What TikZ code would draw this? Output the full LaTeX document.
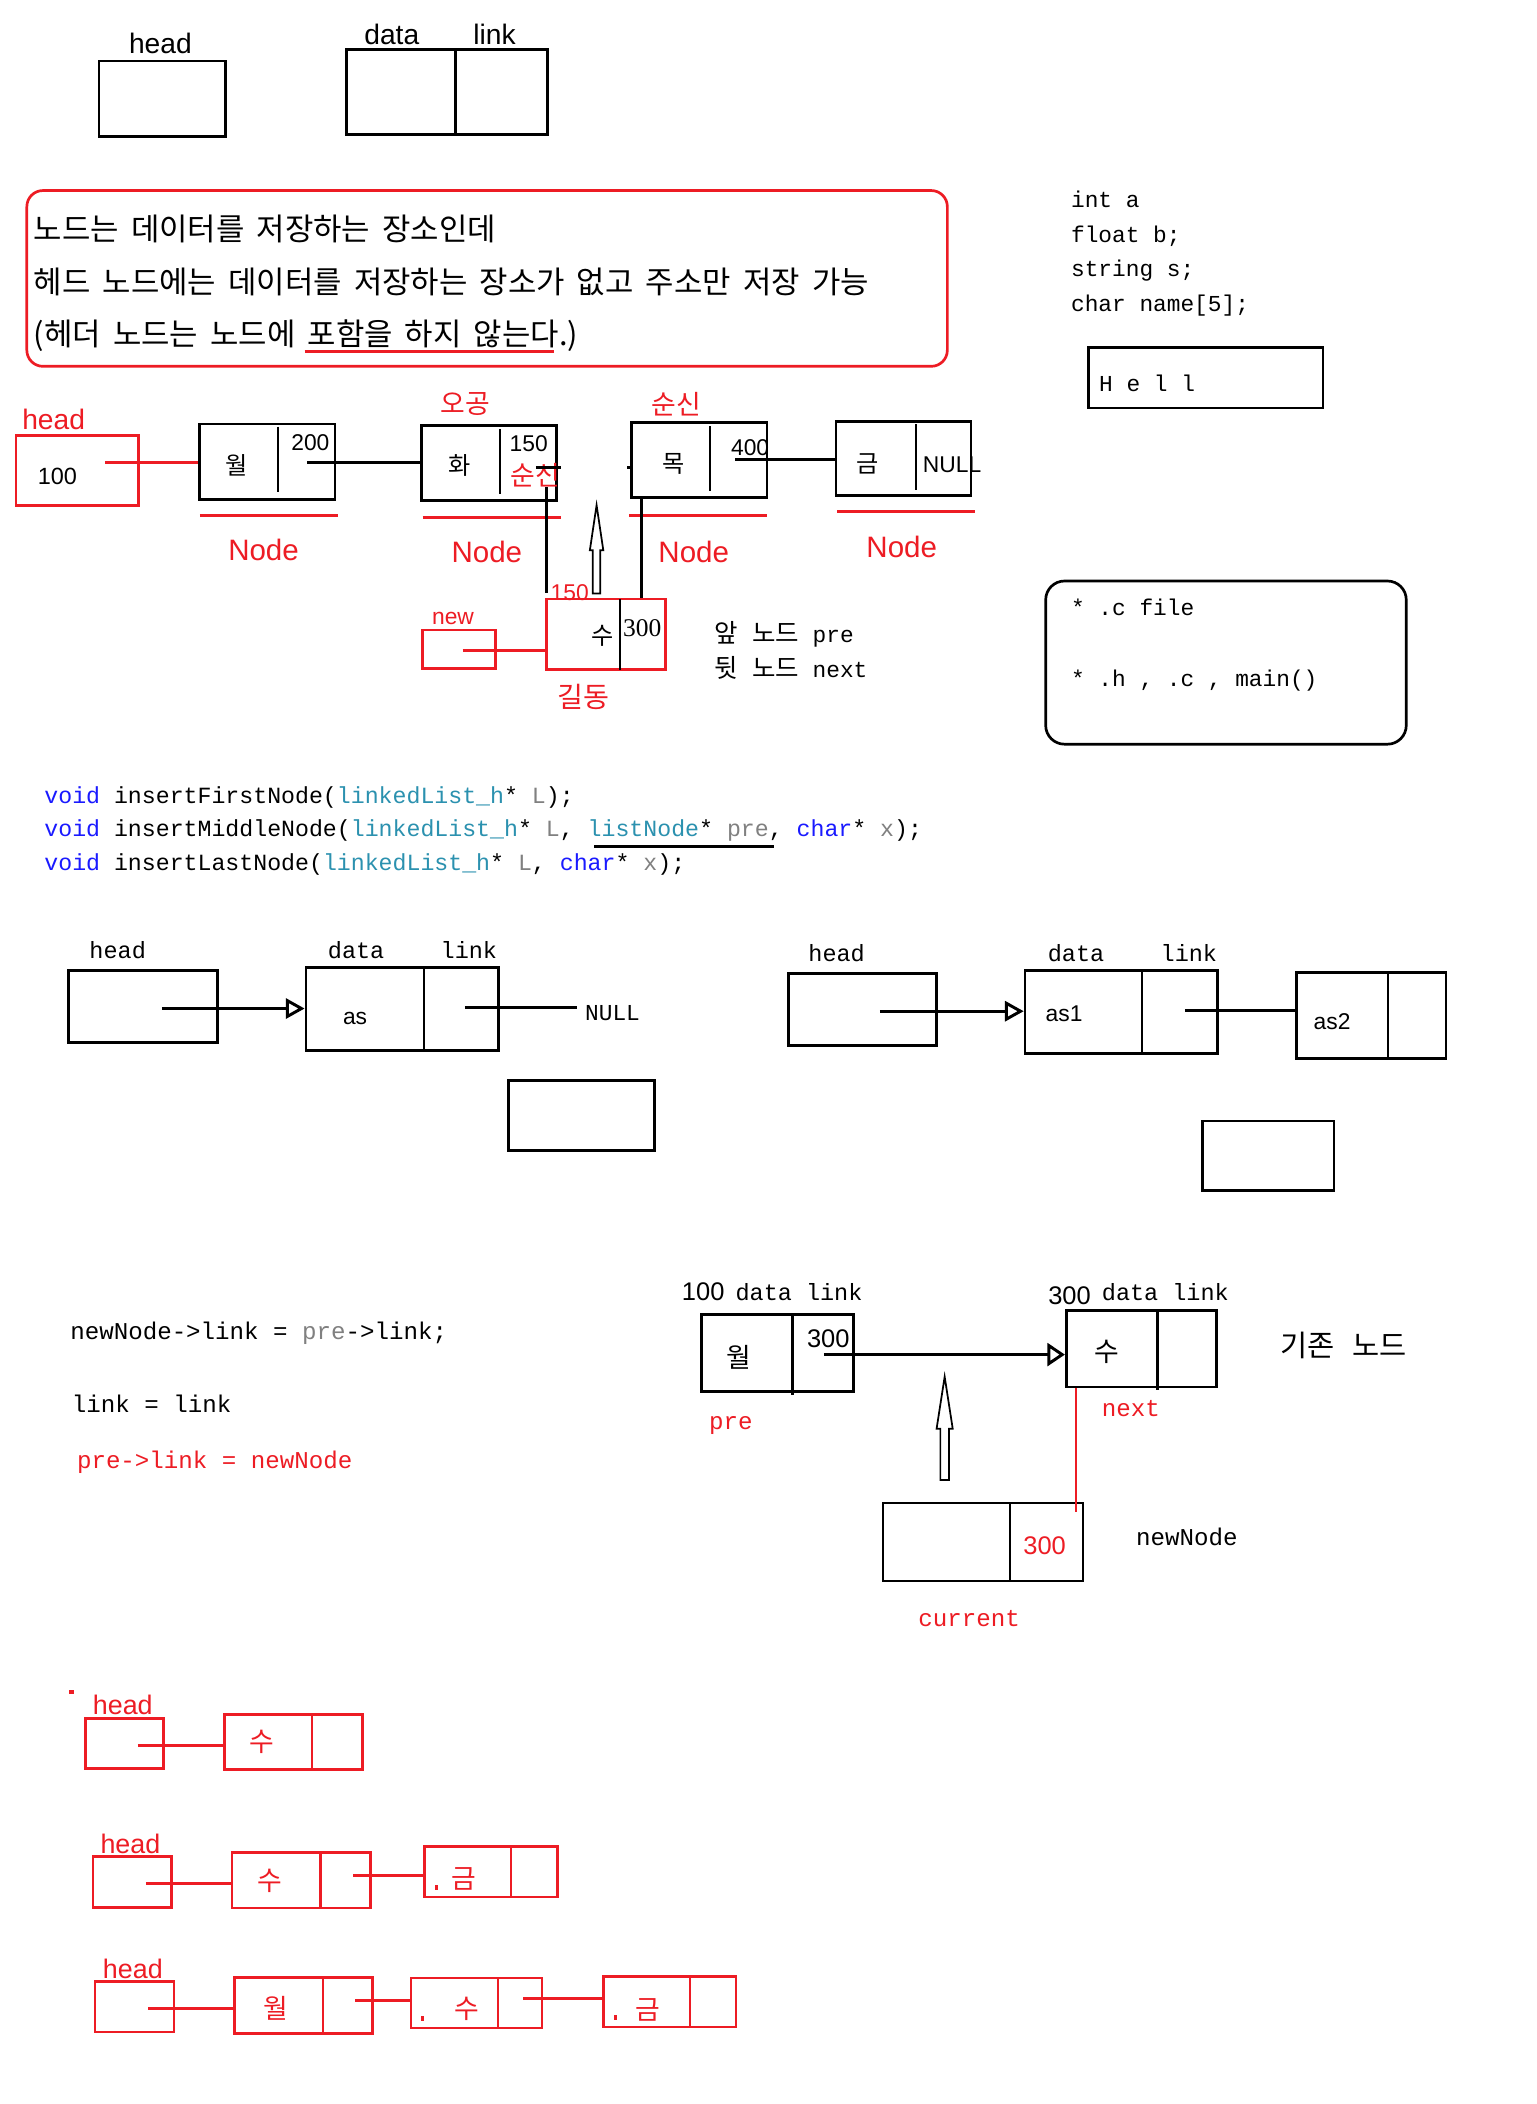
\documentclass[tikz,border=0pt]{standalone}
\usepackage{fontspec}
\setmainfont{Liberation Sans}
\newfontfamily\kr{Noto Sans CJK KR}
\newfontfamily\krw[WordSpace=1.75]{Noto Sans CJK KR}
\newfontfamily\mono{Liberation Mono}
\newfontfamily\ser{Liberation Serif}
\usetikzlibrary{arrows.meta,fit}
\definecolor{pred}{HTML}{ED1C24}
\definecolor{kw}{HTML}{1A1AFF}
\definecolor{ty}{HTML}{2B91AF}
\definecolor{gr}{HTML}{808080}
\newcommand\fsz[1]{\fontsize{#1}{#1}\selectfont}
\begin{document}
\begin{tikzpicture}[x=1pt,y=-1pt,
  box/.style={draw,line width=2pt,inner sep=0pt},
  rbox/.style={box,draw=pred},
  div/.style={line width=1.6pt},
  con/.style={line width=2.2pt},
  rcon/.style={con,draw=pred},
  uline/.style={draw=pred,line width=2.2pt},
  txt/.style={inner sep=0pt},
  oarr/.style={con,-{Triangle[open,length=14pt,width=15pt]}},
  harr/.style={line width=1.3pt}]
\fill[white] (0,0) rectangle (1145,1568);
\useasboundingbox (0,0) rectangle (1145,1568);

% ---------- section 1 ----------
\node[box, fit={(73.7,45.5)(167.8,101.9)}] (hd0) {};
\node[txt,anchor=base] (hd0l) at (119.5,40.2) {\fsz{21}head};
\node[box, fit={(258,36.8)(408,100.4)}] (nd0) {};
\draw[div] (339.5,36.8) -- (339.5,100.4);
\node[txt,anchor=base] (nd0d) at (292,33.5) {\fsz{21}data};
\node[txt,anchor=base] (nd0k) at (368.5,33.5) {\fsz{21}link};

\node[draw=pred,line width=2pt,rounded corners=12pt,inner sep=0pt,fit={(20,142)(706,273)}] (note) {};
\node[txt,anchor=base west] (k1) at (25,179) {\krw\fsz{23}노드는 데이터를 저장하는 장소인데};
\node[txt,anchor=base west] (k2) at (25,219) {\krw\fsz{23}헤드 노드에는 데이터를 저장하는 장소가 없고 주소만 저장 가능};
\node[txt,anchor=base west] (k3) at (25,257.5) {\krw\fsz{23}(헤더 노드는 노드에 포함을 하지 않는다.)};
\draw[uline] (227,262) -- (413,262);

% ---------- right code ----------
\node[txt,anchor=base west] (c1) at (798,155) {\mono\fsz{17}int a};
\node[txt,anchor=base west] (c2) at (798,180.5) {\mono\fsz{17}float b;};
\node[txt,anchor=base west] (c3) at (798,206) {\mono\fsz{17}string s;};
\node[txt,anchor=base west] (c4) at (798,232.5) {\mono\fsz{17}char name[5];};
\node[box, fit={(811,259)(986,304)}] (hell) {};
\node[txt,anchor=base west] (hellt) at (819,291.5) {\mono\fsz{17}H e l l};
\node[box,rounded corners=14pt,fit={(779.3,433)(1048,554.6)}] (files) {};
\node[txt,anchor=base west] (f1) at (798,458.8) {\mono\fsz{17}* .c file};
\node[txt,anchor=base west] (f2) at (798,511.7) {\mono\fsz{17}* .h , .c , main()};

% ---------- section 2 ----------
\node[rbox, fit={(11.9,324.3)(103.2,376.5)}] (hb) {};
\node[txt,anchor=base,text=pred] (hbl) at (40,320) {\fsz{21}head};
\node[txt] (hbv) at (42.8,355.3) {\fsz{17.5}100};
\node[box, fit={(148.8,316.1)(249.6,372)}] (wol) {};
\draw[div] (207.3,318) -- (207.3,367);
\node[txt] (wolt) at (176,346.7) {\kr\fsz{18}월};
\node[txt] (wolv) at (231.3,330) {\fsz{17}200};
\node[box, fit={(314,317.3)(414.6,373.2)}] (hwa) {};
\draw[div] (372.8,320) -- (372.8,368.5);
\node[txt] (hwat) at (342.4,346.7) {\kr\fsz{18}화};
\node[txt] (hwav) at (394,330.5) {\fsz{17}150};
\node[txt,text=pred] (hwas) at (399,354) {\kr\fsz{20}순신};
\node[txt,text=pred] (ogong) at (347,301) {\kr\fsz{20}오공};
\node[box, fit={(470.8,315.1)(571.6,371)}] (mok) {};
\draw[div] (529.2,317.6) -- (529.2,366);
\node[txt] (mokt) at (501.7,345.4) {\kr\fsz{18}목};
\node[txt] (mokv) at (559,333.6) {\fsz{17}400};
\node[txt,text=pred] (sunsin) at (504,301) {\kr\fsz{20}순신};
\node[box, fit={(623,313.9)(723.7,369.5)}] (geum) {};
\draw[div] (682.4,316.3) -- (682.4,364.8);
\node[txt] (geumt) at (646.7,345.4) {\kr\fsz{18}금};
\node[txt] (geumv) at (709.5,346) {\fsz{17}NULL};

\draw[uline] (149,384.2) -- (252,384.2);
\draw[uline] (315,385.7) -- (418,385.7);
\draw[uline] (469,384) -- (571.6,384);
\draw[uline] (624,381) -- (726.6,381);
\node[txt,text=pred] (nl1) at (196.4,410) {\fsz{22}Node};
\node[txt,text=pred] (nl2) at (362.8,411.3) {\fsz{22}Node};
\node[txt,text=pred] (nl3) at (517,411.3) {\fsz{22}Node};
\node[txt,text=pred] (nl4) at (672,407.5) {\fsz{22}Node};

\coordinate (hp) at (78.5,344.7);
\draw[rcon] (hp) -- (hp -| wol.west);
\coordinate (wp) at (229,344.7);
\draw[con] (wp) -- (wp -| hwa.west);
\coordinate (hs1) at (399.4,348.4);
\coordinate (hs2) at (418.4,348.4);
\draw[con] (hs1) -- (hs2);
\coordinate (mt) at (467.5,348.4);
\draw[con] (mt) -- (mt -| mok.west);
\coordinate (mp) at (548,342.4);
\draw[con] (mp) -- (mp -| geum.west);

\node[rbox, fit={(407.5,446.5)(496,499)}] (su) {};
\draw[div] (462,446.5) -- (462,499);
\coordinate (v1a) at (407.5,363);
\coordinate (v1b) at (407.5,441.8);
\draw[con] (v1a) -- (v1b);
\coordinate (v2) at (478,400);
\draw[con] (mok.south -| v2) -- (su.north -| v2);
\node[rbox, fit={(314.8,469.6)(369.5,498.2)}] (newb) {};
\node[txt,text=pred] (newl) at (337.6,461.2) {\fsz{17}new};
\coordinate (np) at (344.7,484.5);
\draw[rcon] (np) -- (np -| su.west);
\node[txt,text=pred] (s150) at (424.6,442) {\fsz{17}150};
\node[txt] (sut) at (448.9,473.6) {\kr\fsz{18}수};
\node[txt] (suv) at (478.7,468.4) {\ser\fsz{19}300};
\node[txt,text=pred] (gd) at (435,519.3) {\kr\fsz{21}길동};
\node[txt,anchor=base west] (pre1) at (532.6,478.5) {\mono\fsz{17}{\kr\fsz{19}앞} {\kr\fsz{19}노드} pre};
\node[txt,anchor=base west] (next1) at (532.6,505) {\mono\fsz{17}{\kr\fsz{19}뒷} {\kr\fsz{19}노드} next};
\draw[harr] (444.6,376.5) -- (449.6,410) -- (447.4,410) -- (447.4,442.3) -- (441.8,442.3) -- (441.8,410) -- (439.6,410) -- cycle;

% ---------- section 4 code ----------
\node[txt,anchor=base west] (p1) at (32.9,598.8) {\mono\fsz{17.3}{\color{kw}void} insertFirstNode({\color{ty}linkedList\_h}* {\color{gr}L});};
\node[txt,anchor=base west] (p2) at (32.9,623.7) {\mono\fsz{17.3}{\color{kw}void} insertMiddleNode({\color{ty}linkedList\_h}* {\color{gr}L}, {\color{ty}listNode}* {\color{gr}pre}, {\color{kw}char}* {\color{gr}x});};
\node[txt,anchor=base west] (p3) at (32.9,649) {\mono\fsz{17.3}{\color{kw}void} insertLastNode({\color{ty}linkedList\_h}* {\color{gr}L}, {\color{kw}char}* {\color{gr}x});};
\draw[line width=2pt] (443,630.6) -- (576.5,630.6);

% ---------- section 4 diagrams ----------
\node[box, fit={(51.2,723)(162.3,777)}] (h4a) {};
\node[txt,anchor=base] (h4al) at (87.7,714) {\mono\fsz{17.5}head};
\node[box, fit={(228,721)(371.3,783)}] (n4a) {};
\draw[div] (315.8,721) -- (315.8,783);
\node[txt,anchor=base] (n4ad) at (265.4,714.3) {\mono\fsz{17.5}data};
\node[txt,anchor=base] (n4ak) at (349.4,714.3) {\mono\fsz{17.5}link};
\coordinate (a4a) at (120.6,751.6);
\draw[oarr] (a4a) -- (a4a -| n4a.west);
\node[txt] (as) at (264.6,759) {\fsz{17}as};
\node[txt] (null4) at (456.5,755.3) {\mono\fsz{17}NULL};
\coordinate (l4a) at (346.5,750.9);
\draw[con,shorten >=6pt] (l4a) -- (l4a -| null4.west);
\node[box, fit={(378.7,805)(487.6,857.2)}] (e4a) {};

\node[box, fit={(587.7,725.5)(698.1,779.4)}] (h4b) {};
\node[txt,anchor=base] (h4bl) at (623.5,716.6) {\mono\fsz{17.5}head};
\node[box, fit={(763.9,723)(907.2,785)}] (n4b) {};
\draw[div] (850.9,723) -- (850.9,785);
\node[txt,anchor=base] (n4bd) at (801.9,716.8) {\mono\fsz{17.5}data};
\node[txt,anchor=base] (n4bk) at (886,716.8) {\mono\fsz{17.5}link};
\coordinate (a4b) at (655.7,753.6);
\draw[oarr] (a4b) -- (a4b -| n4b.west);
\node[txt] (as1) at (793,755.3) {\fsz{17}as1};
\node[box, fit={(966.4,724.8)(1077.5,788.9)}] (n4c) {};
\draw[div] (1034.4,724.8) -- (1034.4,788.9);
\node[txt] (as2) at (992.7,761.6) {\fsz{17}as2};
\coordinate (l4c) at (883,752.8);
\draw[con] (l4c) -- (l4c -| n4c.west);
\node[box, fit={(896.2,835.3)(994.2,887)}] (e4b) {};

% ---------- section 5 ----------
\node[txt,anchor=base west] (q1) at (52.2,998.4) {\mono\fsz{18}newNode->link = {\color{gr}pre}->link;};
\node[txt,anchor=base west] (q2) at (53.4,1053) {\mono\fsz{18}link = link};
\node[txt,anchor=base west,text=pred] (q3) at (57.2,1094.5) {\mono\fsz{18}pre->link = newNode};

\node[txt,anchor=base west] (t100) at (508,969) {\fsz{19}100};
\node[txt,anchor=base west] (t100d) at (548,969) {\mono\fsz{17.5}data link};
\node[txt,anchor=base west] (t300) at (781,972.5) {\fsz{19}300};
\node[txt,anchor=base west] (t300d) at (821,969.5) {\mono\fsz{17.5}data link};

\node[box, fit={(522.7,979.5)(636,1036.8)}] (wol5) {};
\draw[div] (590.6,979.5) -- (590.6,1039.5);
\node[txt] (wol5t) at (550.4,1011.8) {\kr\fsz{20}월};
\node[txt] (wol5v) at (617.3,997.6) {\fsz{19}300};
\node[box, fit={(794.6,976.5)(906.4,1033.6)}] (su5) {};
\draw[div] (862.6,976.5) -- (862.6,1036);
\node[txt] (su5t) at (824.6,1007.5) {\kr\fsz{20}수};
\coordinate (a5) at (614,1009.5);
\draw[con,-{Triangle[open,length=13pt,width=17pt]}] (a5) -- (a5 -| su5.west);
\node[txt,anchor=west] (gijon) at (954,1002.6) {\kr\fsz{22}기존\hspace{13pt}노드};
\node[txt,text=pred] (pre5) at (544.6,1062.5) {\mono\fsz{18}pre};
\node[txt,text=pred] (next5) at (842.8,1050) {\mono\fsz{18}next};

\node[box, fit={(658,1120)(807,1178.2)}] (nn5) {};
\draw[div] (753,1120) -- (753,1178.2);
\node[txt,text=pred] (nn5v) at (778.5,1151.6) {\fsz{19}300};
\node[txt] (nn5l) at (884.5,1145.4) {\mono\fsz{18}newNode};
\node[txt,text=pred] (cur5) at (722.2,1206) {\mono\fsz{18}current};
\coordinate (r5) at (801.9,1126.8);
\draw[pred,line width=1pt] (su5.south -| r5) -- (r5);
\draw[harr] (704,1026) -- (710,1064.7) -- (707.2,1064.7) -- (707.2,1103) -- (700.8,1103) -- (700.8,1064.7) -- (698,1064.7) -- cycle;

% ---------- section 6 ----------
\fill[pred] (51.3,1259.8) rectangle (55.2,1262.6);
\node[txt,anchor=base,text=pred] (h6a) at (91.5,1277.5) {\fsz{20}head};
\node[rbox, fit={(63.5,1280.9)(121.7,1318.1)}] (b6a) {};
\node[rbox, fit={(167.4,1277.6)(270,1318.9)}] (m6a) {};
\draw[pred,div] (232.8,1277.6) -- (232.8,1318.9);
\node[txt,text=pred] (m6at) at (195.1,1298.3) {\kr\fsz{20}수};
\coordinate (c6a) at (102.7,1301);
\draw[rcon] (c6a) -- (c6a -| m6a.west);

\node[txt,anchor=base,text=pred] (h6b) at (97.2,1381.5) {\fsz{20}head};
\node[rbox, fit={(69.2,1383.5)(127.8,1421.3)}] (b6b) {};
\node[rbox, fit={(173,1380.8)(276.2,1422)}] (m6b) {};
\draw[pred,div] (238.9,1380.8) -- (238.9,1422);
\node[txt,text=pred] (m6bt) at (200.8,1401.4) {\kr\fsz{20}수};
\node[rbox, fit={(316.5,1376)(415.4,1413.8)}] (g6b) {};
\draw[pred,div] (381.1,1376) -- (381.1,1413.8);
\fill[pred] (324.2,1404.6) rectangle (326.2,1408.3);
\node[txt,text=pred] (g6bt) at (345.4,1400.1) {\kr\fsz{20}금};
\coordinate (c6b) at (108.8,1403.9);
\draw[rcon] (c6b) -- (c6b -| m6b.west);
\coordinate (c6c) at (263.2,1397.9);
\draw[rcon] (c6c) -- (c6c -| g6b.west);

\node[txt,anchor=base,text=pred] (h6c) at (99,1474.7) {\fsz{20}head};
\node[rbox, fit={(70.8,1476.7)(129.7,1514.4)}] (b6c) {};
\node[rbox, fit={(174.6,1473.7)(277.7,1515.2)}] (w6c) {};
\draw[pred,div] (240.4,1473.7) -- (240.4,1515.2);
\node[txt,text=pred] (w6ct) at (205.4,1497) {\kr\fsz{20}월};
\node[rbox, fit={(306.2,1474)(404,1511.4)}] (s6c) {};
\draw[pred,div] (370.9,1474) -- (370.9,1511.4);
\fill[pred] (313.8,1502.7) rectangle (315.8,1505.9);
\node[txt,text=pred] (s6ct) at (348,1497) {\kr\fsz{20}수};
\node[rbox, fit={(450,1473)(548.5,1510.7)}] (g6c) {};
\draw[pred,div] (514.3,1473) -- (514.3,1510.7);
\fill[pred] (457.6,1502) rectangle (459.6,1505.3);
\node[txt,text=pred] (g6ct) at (483,1497.8) {\kr\fsz{20}금};
\coordinate (c6d) at (110.3,1497);
\draw[rcon] (c6d) -- (c6d -| w6c.west);
\coordinate (c6e) at (264.7,1490.8);
\draw[rcon] (c6e) -- (c6e -| s6c.west);
\coordinate (c6f) at (390,1489.6);
\draw[rcon] (c6f) -- (c6f -| g6c.west);
\end{tikzpicture}
\end{document}
